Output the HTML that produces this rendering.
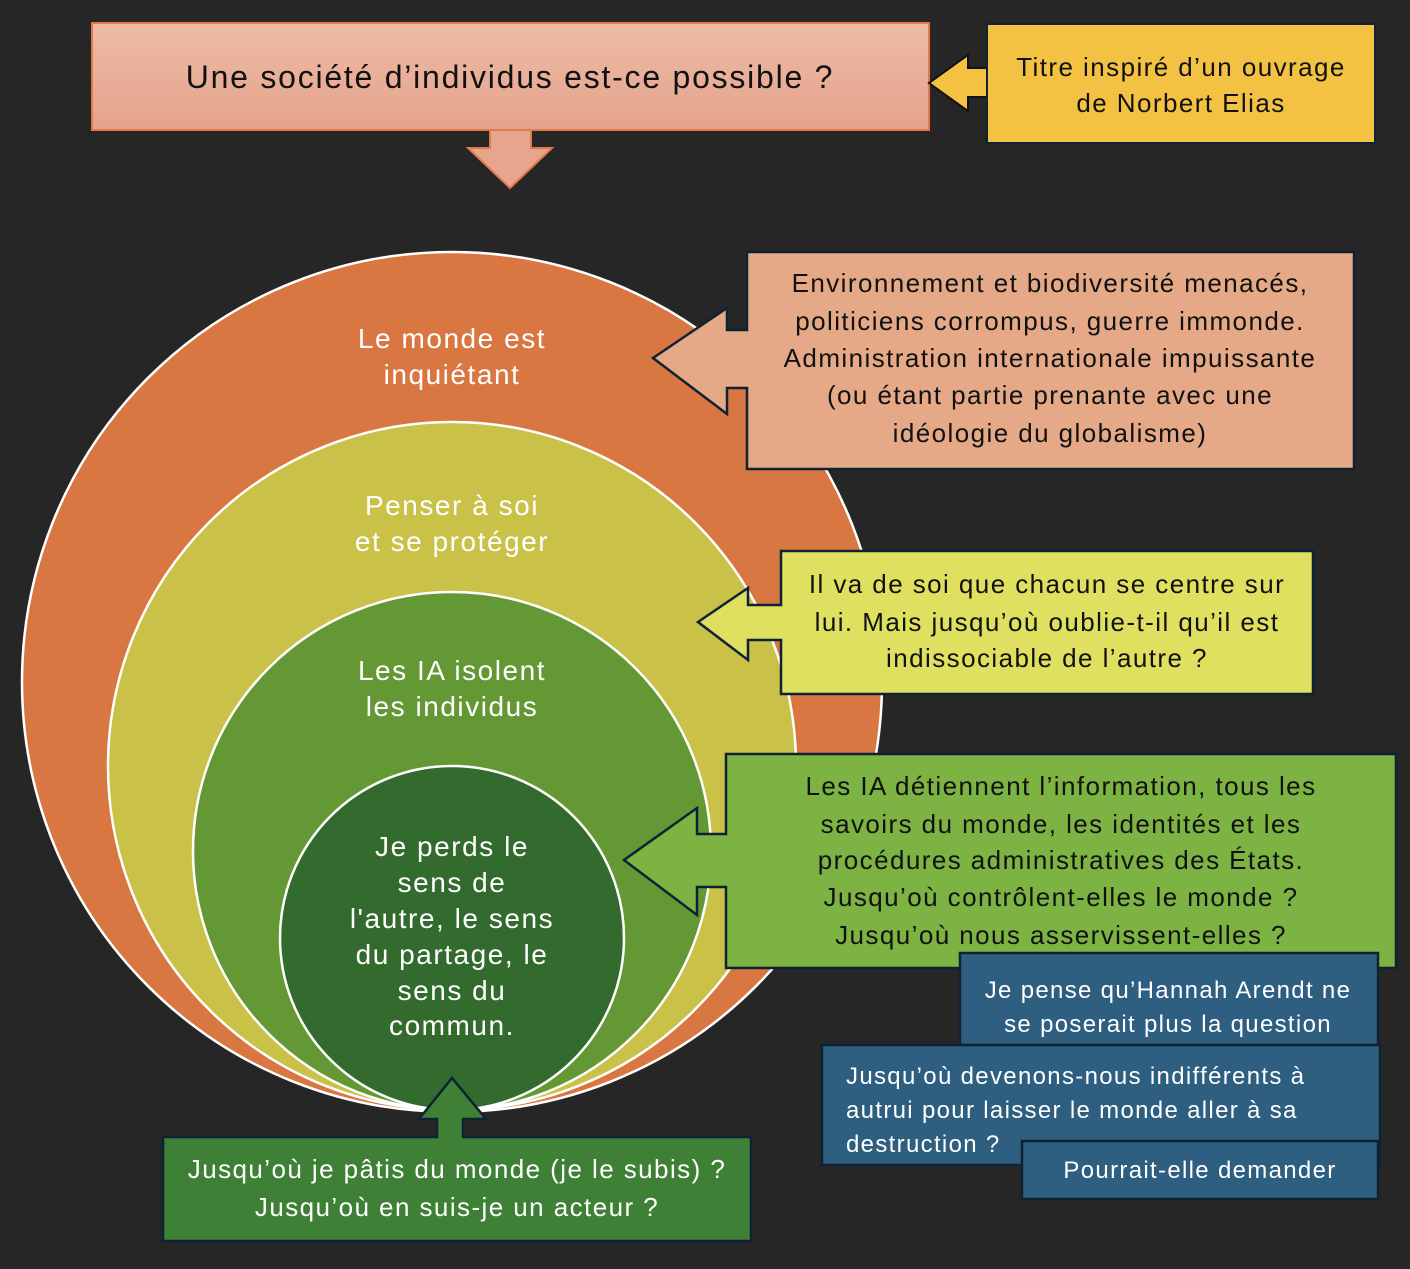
<!DOCTYPE html>
<html><head><meta charset="utf-8"><style>
html,body{margin:0;padding:0;background:#262626;}
svg text{font-family:"Liberation Sans",sans-serif;letter-spacing:0.055em;}
</style></head><body>
<svg width="1410" height="1264" viewBox="0 0 1410 1264" xmlns="http://www.w3.org/2000/svg">
<defs><linearGradient id="tg" x1="0" y1="0" x2="0" y2="1"><stop offset="0" stop-color="#edbba6"/><stop offset="1" stop-color="#e5a38c"/></linearGradient></defs>
<rect width="1410" height="1264" fill="#262626"/>
<!-- title -->
<rect x="92" y="23" width="837" height="107" fill="url(#tg)" stroke="#e07a4a" stroke-width="2"/>
<polygon points="490,130 531,130 531,148 552,148 510,188 468,148 490,148" fill="#e8a58e" stroke="#e07a4a" stroke-width="2"/>
<text x="510" y="88" font-size="32" text-anchor="middle" fill="#111">Une société d’individus est-ce possible ?</text>
<polygon points="987,68 968,68 968,55 929,83 968,111 968,97 987,97" fill="#f4c242" stroke="#111" stroke-width="2"/>
<rect x="987" y="24" width="388" height="119" fill="#f4c242" stroke="#0f2233" stroke-width="2"/>
<text font-size="26" text-anchor="middle" fill="#111"><tspan x="1181" y="76">Titre inspiré d’un ouvrage</tspan><tspan x="1181" y="112">de Norbert Elias</tspan></text>
<!-- circles -->
<circle cx="452" cy="682" r="430" fill="#d97742" stroke="#fff" stroke-width="2.5"/>
<circle cx="452" cy="766" r="344" fill="#c9c148" stroke="#fff" stroke-width="2.5"/>
<circle cx="452" cy="851" r="259" fill="#649835" stroke="#fff" stroke-width="2.5"/>
<circle cx="452" cy="938" r="172" fill="#336a2d" stroke="#fff" stroke-width="2.5"/>
<g fill="#fff" font-size="28" text-anchor="middle">
<text><tspan x="452" y="348">Le monde est</tspan><tspan x="452" y="384">inquiétant</tspan></text>
<text><tspan x="452" y="515">Penser à soi</tspan><tspan x="452" y="551">et se protéger</tspan></text>
<text><tspan x="452" y="680">Les IA isolent</tspan><tspan x="452" y="716">les individus</tspan></text>
<text><tspan x="452" y="856">Je perds le</tspan><tspan x="452" y="892">sens de</tspan><tspan x="452" y="928">l'autre, le sens</tspan><tspan x="452" y="964">du partage, le</tspan><tspan x="452" y="1000">sens du</tspan><tspan x="452" y="1035">commun.</tspan></text>
</g>
<!-- orange callout -->
<polygon points="747,252 1354,252 1354,469 747,469 747,388 727,388 727,414 653,358 727,308 727,330 747,330" fill="#e6a988" stroke="#0f2233" stroke-width="2.5"/>
<g font-size="26" text-anchor="middle" fill="#111"><text><tspan x="1050" y="292">Environnement et biodiversité menacés,</tspan><tspan x="1050" y="330">politiciens corrompus, guerre immonde.</tspan><tspan x="1050" y="367">Administration internationale impuissante</tspan><tspan x="1050" y="404">(ou étant partie prenante avec une</tspan><tspan x="1050" y="442">idéologie du globalisme)</tspan></text></g>
<!-- yellow callout -->
<polygon points="781,551 1313,551 1313,694 781,694 781,640 748,640 748,660 698,622 748,588 748,605 781,605" fill="#dfe05f" stroke="#0f2233" stroke-width="2.5"/>
<g font-size="26" text-anchor="middle" fill="#111"><text><tspan x="1047" y="593">Il va de soi que chacun se centre sur</tspan><tspan x="1047" y="631">lui. Mais jusqu’où oublie-t-il qu’il est</tspan><tspan x="1047" y="667">indissociable de l’autre ?</tspan></text></g>
<!-- green callout -->
<polygon points="726,754 1396,754 1396,968 726,968 726,887 697,887 697,915 624,860 697,808 697,834 726,834" fill="#7cb342" stroke="#0f2233" stroke-width="2.5"/>
<g font-size="26" text-anchor="middle" fill="#111"><text><tspan x="1061" y="795">Les IA détiennent l’information, tous les</tspan><tspan x="1061" y="833">savoirs du monde, les identités et les</tspan><tspan x="1061" y="869">procédures administratives des États.</tspan><tspan x="1061" y="906">Jusqu’où contrôlent-elles le monde ?</tspan><tspan x="1061" y="944">Jusqu’où nous asservissent-elles ?</tspan></text></g>
<!-- bottom green -->
<polygon points="163,1137 437,1137 437,1119 419,1119 452,1078 486,1119 463,1119 463,1137 751,1137 751,1241 163,1241" fill="#3e8035" stroke="#0f2233" stroke-width="2.5"/>
<g font-size="26" text-anchor="middle" fill="#fff"><text><tspan x="457" y="1178">Jusqu’où je pâtis du monde (je le subis) ?</tspan><tspan x="457" y="1216">Jusqu’où en suis-je un acteur ?</tspan></text></g>
<!-- blue boxes -->
<g fill="#2e5f80" stroke="#0f2233" stroke-width="2.5">
<rect x="960" y="953" width="418" height="92"/>
<rect x="822" y="1045" width="558" height="120"/>
<rect x="1022" y="1141" width="356" height="58"/>
</g>
<g font-size="24" fill="#fff">
<text text-anchor="middle"><tspan x="1168" y="998">Je pense qu’Hannah Arendt ne</tspan><tspan x="1168" y="1032">se poserait plus la question</tspan></text>
<text><tspan x="846" y="1084">Jusqu’où devenons-nous indifférents à</tspan><tspan x="846" y="1118">autrui pour laisser le monde aller à sa</tspan><tspan x="846" y="1152">destruction ?</tspan></text>
<text x="1200" y="1178" text-anchor="middle">Pourrait-elle demander</text>
</g>
</svg>
</body></html>
